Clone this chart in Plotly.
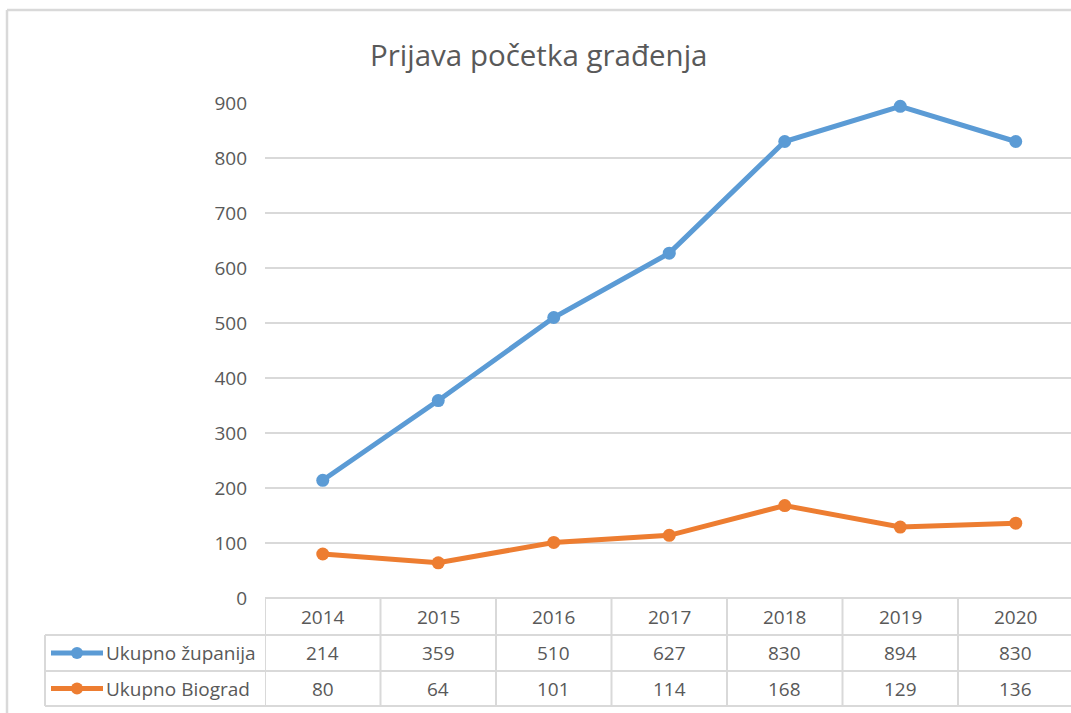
import plotly.graph_objects as go

years = ["2014", "2015", "2016", "2017", "2018", "2019", "2020"]
zupanija = [214, 359, 510, 627, 830, 894, 830]
biograd = [80, 64, 101, 114, 168, 129, 136]
series_names = ["Ukupno županija", "Ukupno Biograd"]
colors = ["#5B9BD5", "#ED7D31"]
title = "Prijava početka građenja"

W, H = 1071, 713
L, R, T, B = 265, 0, 103, 115
pw, ph = W - L - R, H - T - B
FONT = "Open Sans, Lato, sans-serif"
TXT = "#595959"
GRID = "#D9D9D9"
FS = 19


def px(x):
    return (x - L) / pw


def py(y):
    return (H - B - y) / ph


fig = go.Figure()
for name, vals, c in zip(series_names, [zupanija, biograd], colors):
    fig.add_trace(go.Scatter(
        x=list(range(len(years))), y=vals, name=name, mode="lines+markers",
        line=dict(color=c, width=5), marker=dict(color=c, size=13),
        cliponaxis=False, showlegend=False))

shapes = []
# outer frame (cropped)
shapes.append(dict(type="line", xref="paper", yref="paper", x0=px(7), x1=px(W + 5), y0=py(10), y1=py(10),
                   line=dict(color=GRID, width=2.5)))
shapes.append(dict(type="line", xref="paper", yref="paper", x0=px(7), x1=px(7), y0=py(10), y1=py(H + 5),
                   line=dict(color=GRID, width=2.5)))

# data table lines
row_y = [598, 635, 671, 706]
shapes.append(dict(type="line", xref="paper", yref="paper", x0=0, x1=px(W + 5), y0=py(row_y[0]), y1=py(row_y[0]),
                   line=dict(color=GRID, width=2)))
for ry in row_y[1:]:
    shapes.append(dict(type="line", xref="paper", yref="paper", x0=px(45), x1=px(W + 5), y0=py(ry), y1=py(ry),
                       line=dict(color=GRID, width=2)))
shapes.append(dict(type="line", xref="paper", yref="paper", x0=px(45), x1=px(45), y0=py(row_y[1]), y1=py(row_y[3]),
                   line=dict(color=GRID, width=2)))
for i in range(len(years)):
    shapes.append(dict(type="line", xref="x", yref="paper", x0=i - 0.5, x1=i - 0.5, y0=py(row_y[0]), y1=py(row_y[3]),
                       line=dict(color=GRID, width=2)))

annotations = []
annotations.append(dict(text=title, xref="paper", yref="paper", x=px(539), y=py(54), showarrow=False,
                        font=dict(family=FONT, size=29.5, color=TXT), xanchor="center", yanchor="middle"))
for i, yr in enumerate(years):
    annotations.append(dict(text=yr, xref="x", yref="paper", x=i, y=py(617), showarrow=False,
                            font=dict(family=FONT, size=FS, color=TXT), xanchor="center", yanchor="middle"))
for r, (name, vals, c) in enumerate(zip(series_names, [zupanija, biograd], colors)):
    yc = (row_y[r + 1] + row_y[r + 2]) / 2
    for i, v in enumerate(vals):
        annotations.append(dict(text=str(v), xref="x", yref="paper", x=i, y=py(yc), showarrow=False,
                                font=dict(family=FONT, size=FS, color=TXT), xanchor="center", yanchor="middle"))
    annotations.append(dict(text=name, xref="paper", yref="paper", x=px(104), y=py(yc), showarrow=False,
                            font=dict(family=FONT, size=FS, color=TXT), xanchor="left", yanchor="middle"))
    shapes.append(dict(type="line", xref="paper", yref="paper", x0=px(51), x1=px(103), y0=py(yc), y1=py(yc),
                       line=dict(color=c, width=5)))
    shapes.append(dict(type="circle", xref="paper", yref="paper", x0=px(71), x1=px(83), y0=py(yc - 6), y1=py(yc + 6),
                       fillcolor=c, line=dict(color=c, width=0)))

fig.update_layout(
    width=W, height=H,
    margin=dict(l=L, r=R, t=T, b=B),
    paper_bgcolor="white", plot_bgcolor="white",
    shapes=shapes, annotations=annotations,
    xaxis=dict(range=[-0.5, 6.5 - 2.5 / 115.5], showticklabels=False, showgrid=False,
               zeroline=False, showline=False),
    yaxis=dict(range=[0, 900], dtick=100, showgrid=True, gridcolor=GRID, gridwidth=2, zeroline=False,
               showline=False, tickfont=dict(family=FONT, size=FS, color=TXT), ticklabelstandoff=17),
)

fig.write_html(
    "out.html",
    config={"displayModeBar": False},
    post_script="document.body.style.margin='0';document.body.style.overflow='hidden';"
                "document.documentElement.style.overflow='hidden';",
)
